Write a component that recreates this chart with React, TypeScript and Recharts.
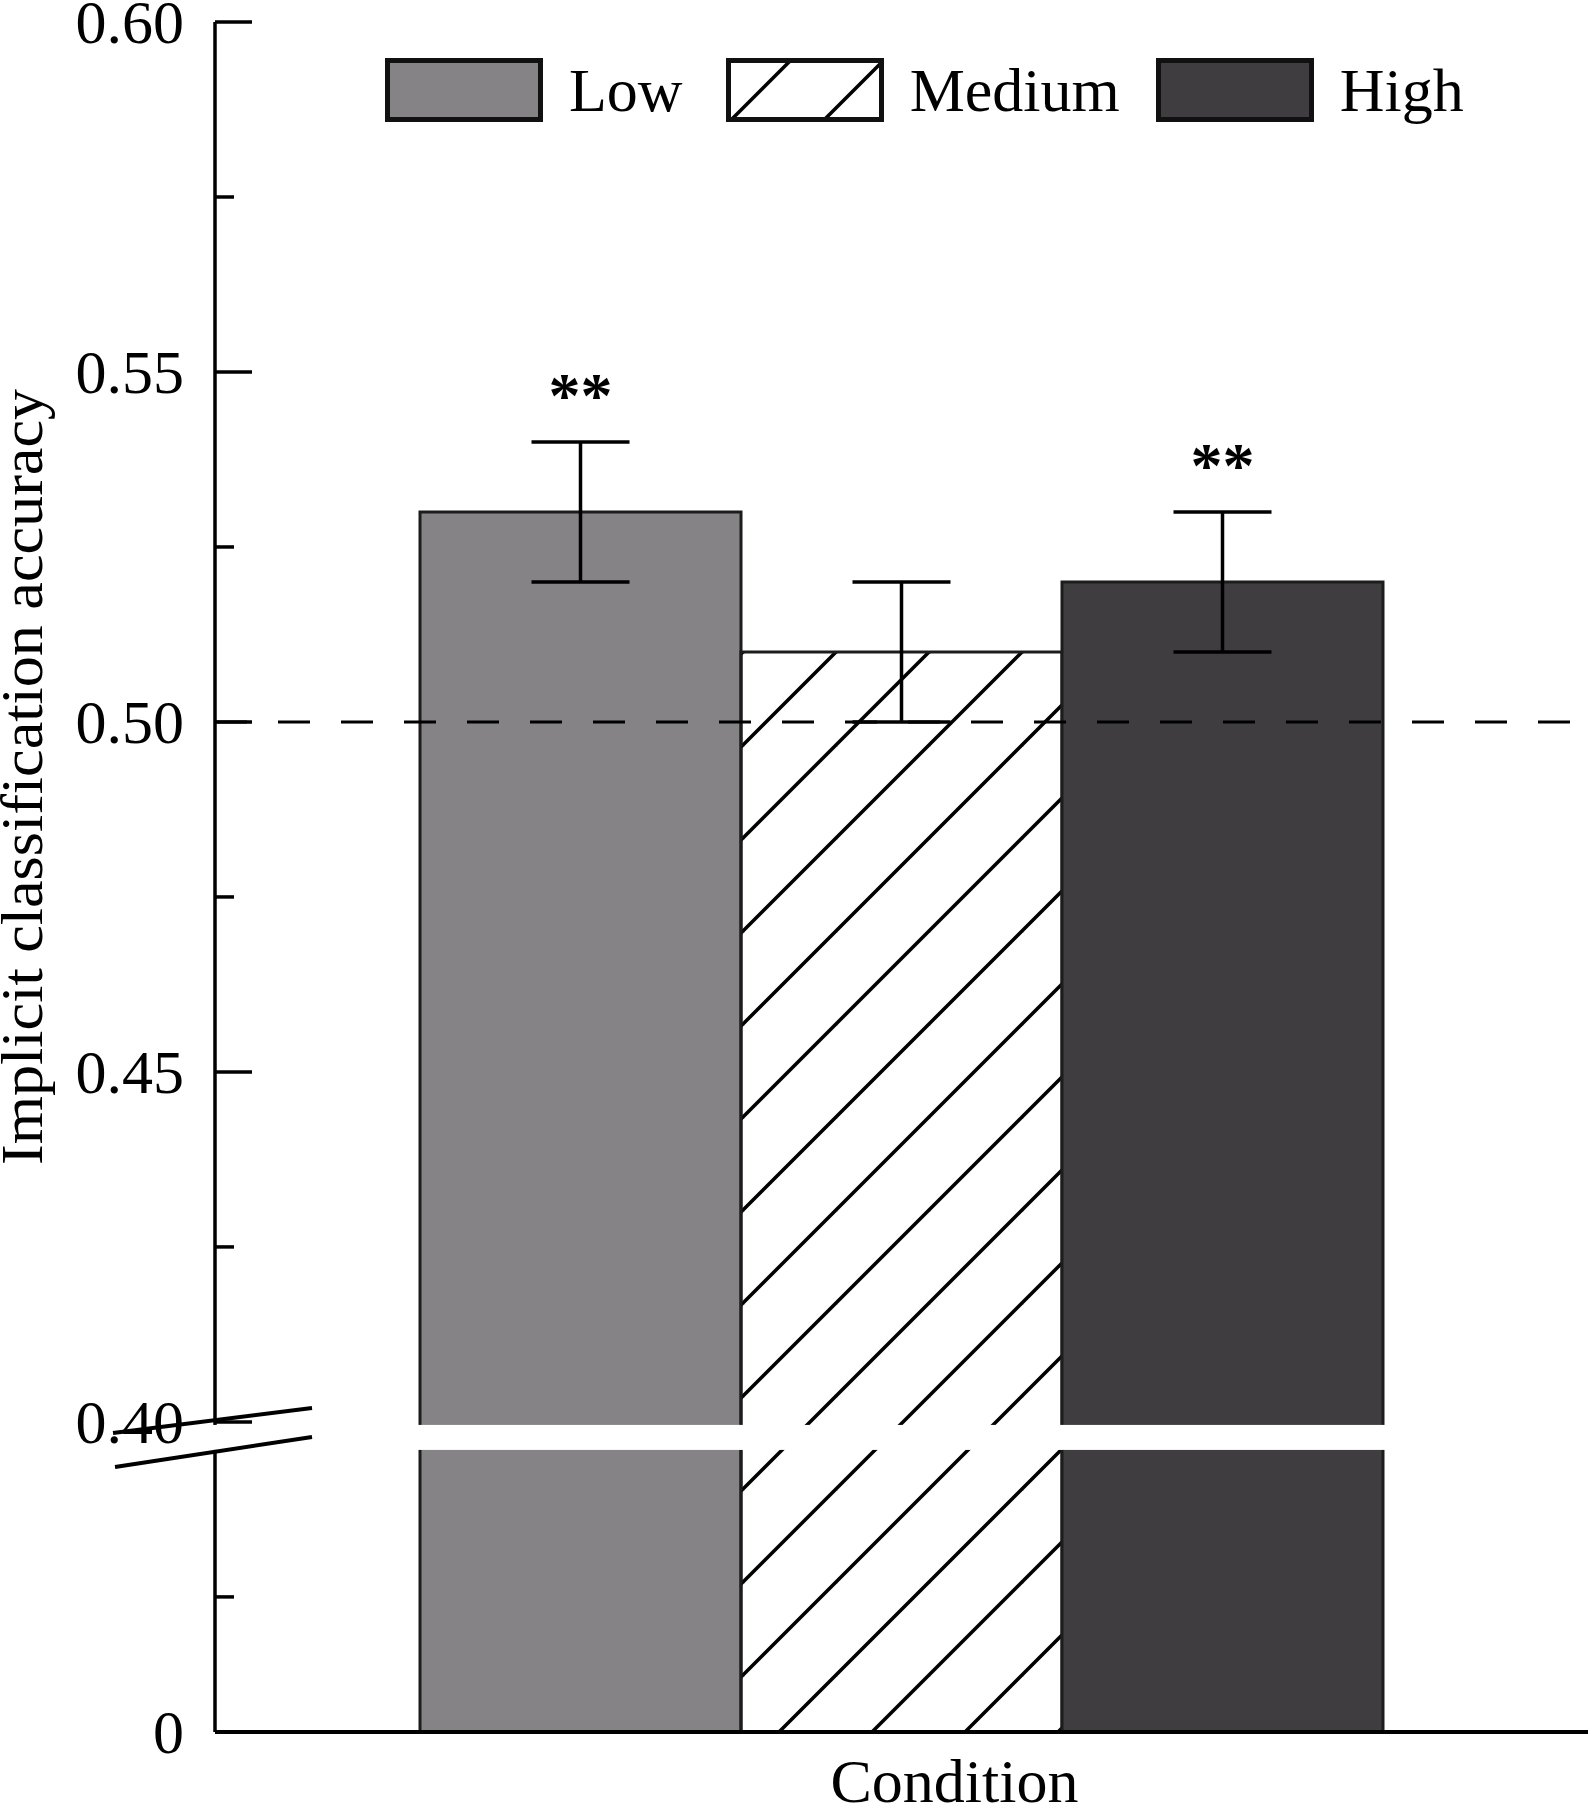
import React from "react";
import {
  Bar,
  BarChart,
  ErrorBar,
  LabelList,
  Legend,
  ReferenceLine,
  XAxis,
  YAxis,
} from "recharts";

// values
const CATEGORY = "Condition";
const SERIES = ["Low", "Medium", "High"];
const KEYS = ["low", "medium", "high"];
const MEANS = [0.53, 0.51, 0.52];
const ERRORS = [0.01, 0.01, 0.01];
const STARS = ["**", "", "**"];

// broken axis: everything below 0.40 is squeezed into a short stub labelled "0"
const Y_MIN = 0.3557;
const Y_MAX = 0.6;
const BREAK_AT = 0.4;
const CHANCE = 0.5;
const TICK_VALUES = [Y_MIN, 0.375, 0.4, 0.425, 0.45, 0.475, 0.5, 0.525, 0.55, 0.575, 0.6];
const TICK_LABELS = ["0", "", "0.40", "", "0.45", "", "0.50", "", "0.55", "", "0.60"];

const FONT = "'Liberation Serif', 'Times New Roman', serif";
const FILLS = ["#858386", "url(#hatch)", "#3f3d40"];
const EDGE = "#1c1c1c";

const data = [
  KEYS.reduce<Record<string, string | number>>(
    (row, k, i) => {
      row[k] = MEANS[i];
      row[`${k}Se`] = ERRORS[i];
      return row;
    },
    { condition: CATEGORY },
  ),
];

function makeBarShape(i: number) {
  return (props: any) => {
    const { x, y, width, height } = props;
    const ppu = height / (MEANS[i] - Y_MIN);
    const bottom = y + height;
    const breakY = bottom - (BREAK_AT - Y_MIN) * ppu;
    return (
      <g>
        <rect x={x} y={y} width={width} height={height} fill={FILLS[i]} />
        <path
          d={`M${x},${bottom} V${y} H${x + width} V${bottom}`}
          fill="none"
          stroke={EDGE}
          strokeWidth={3}
        />
        <rect x={x - 2} y={breakY + 3} width={width + 4} height={25} fill="#fff" />
      </g>
    );
  };
}

function makeStar(i: number) {
  return (props: any) => {
    const box = props.viewBox ?? props;
    const { x, y, width, height } = box;
    if (!STARS[i]) return null;
    const ppu = height / (MEANS[i] - Y_MIN);
    const centre = y - ERRORS[i] * ppu - 54;
    return (
      <text
        x={x + width / 2}
        y={centre + 29}
        textAnchor="middle"
        fontFamily={FONT}
        fontWeight="bold"
        fontSize={64}
        fill="#000"
      >
        {STARS[i]}
      </text>
    );
  };
}

function YTick(props: any) {
  const { x, y, payload } = props;
  const v = payload.value as number;
  const idx = TICK_VALUES.findIndex((t) => Math.abs(t - v) < 1e-6);
  const label = TICK_LABELS[idx] ?? "";
  const isZero = idx === 0;
  const len = label ? 37 : 19;
  return (
    <g>
      {!isZero && <line x1={x} x2={x + len} y1={y} y2={y} stroke="#000" strokeWidth={3.5} />}
      {label && (
        <text x={x - 31} y={y + 21} textAnchor="end" fontFamily={FONT} fontSize={62} fill="#000">
          {label}
        </text>
      )}
      {Math.abs(v - BREAK_AT) < 1e-6 && (
        <g>
          <rect x={x - 6} y={y + 3} width={12} height={25} fill="#fff" />
          <line x1={x - 102} y1={y + 11} x2={x + 97} y2={y - 14} stroke="#000" strokeWidth={4} />
          <line x1={x - 100} y1={y + 45} x2={x + 97} y2={y + 15} stroke="#000" strokeWidth={4} />
        </g>
      )}
    </g>
  );
}

function Swatch({ i }: { i: number }) {
  return (
    <svg width={158} height={64} style={{ display: "block" }}>
      <defs>
        <pattern id="hatchLegend" patternUnits="userSpaceOnUse" width={93} height={93} x={-26} y={0}>
          <line x1={0} y1={93} x2={93} y2={0} stroke="#000" strokeWidth={3.5} />
          <line x1={-10} y1={10} x2={10} y2={-10} stroke="#000" strokeWidth={3.5} />
          <line x1={83} y1={103} x2={103} y2={83} stroke="#000" strokeWidth={3.5} />
        </pattern>
      </defs>
      <rect
        x={2.5}
        y={2.5}
        width={153}
        height={59}
        fill={i === 1 ? "url(#hatchLegend)" : FILLS[i]}
        stroke="#111"
        strokeWidth={5}
      />
    </svg>
  );
}

function renderLegend() {
  return (
    <div style={{ display: "flex", alignItems: "center", fontFamily: FONT, fontSize: 62 }}>
      {SERIES.map((name, i) => (
        <div key={name} style={{ display: "flex", alignItems: "center", marginRight: i === 0 ? 43 : 36 }}>
          <Swatch i={i} />
          <span style={{ marginLeft: 26, lineHeight: "64px", color: "#000" }}>{name}</span>
        </div>
      ))}
    </div>
  );
}

export default function App() {
  return (
    <div style={{ position: "absolute", left: 0, top: 0, background: "#fff" }}>
      <BarChart
        width={1588}
        height={1804}
        data={data}
        margin={{ top: 22, right: 0, bottom: 0, left: 0 }}
        barGap={0}
        barSize={321}
      >
        <defs>
          <pattern id="hatch" patternUnits="userSpaceOnUse" width={93} height={93}>
            <line x1={0} y1={93} x2={93} y2={0} stroke="#000" strokeWidth={3.5} />
            <line x1={-10} y1={10} x2={10} y2={-10} stroke="#000" strokeWidth={3.5} />
            <line x1={83} y1={103} x2={103} y2={83} stroke="#000" strokeWidth={3.5} />
          </pattern>
        </defs>
        <XAxis
          dataKey="condition"
          height={72}
          tick={false}
          tickLine={false}
          axisLine={{ stroke: "#000", strokeWidth: 4 }}
          label={(p: any) => {
            const vb = p.viewBox;
            return (
              <text
                x={vb.x + vb.width / 2 + 53}
                y={vb.y + 70}
                textAnchor="middle"
                fontFamily={FONT}
                fontSize={62}
                fill="#000"
              >
                {CATEGORY}
              </text>
            );
          }}
        />
        <YAxis
          width={215}
          domain={[Y_MIN, Y_MAX]}
          allowDataOverflow
          ticks={TICK_VALUES}
          interval={0}
          tickSize={0}
          tickMargin={0}
          tickLine={false}
          tick={<YTick />}
          axisLine={{ stroke: "#000", strokeWidth: 3.5 }}
          label={(p: any) => {
            const vb = p.viewBox;
            const cx = 42;
            const cy = vb.y + vb.height / 2 - 100;
            return (
              <text
                x={cx}
                y={cy}
                transform={`rotate(-90 ${cx} ${cy})`}
                textAnchor="middle"
                fontFamily={FONT}
                fontSize={59}
                textLength={776}
                lengthAdjust="spacingAndGlyphs"
                fill="#000"
              >
                Implicit classification accuracy
              </text>
            );
          }}
        />
        <Legend
          layout="horizontal"
          verticalAlign="middle"
          align="center"
          content={renderLegend}
          wrapperStyle={{ top: 58, left: 385, width: "auto", height: "auto" }}
        />
        {KEYS.map((k, i) => (
          <Bar key={k} dataKey={k} name={SERIES[i]} fill={FILLS[i]} shape={makeBarShape(i)} isAnimationActive={false}>
            <ErrorBar dataKey={`${k}Se`} width={49} strokeWidth={3.5} stroke="#000" />
            <LabelList dataKey={k} content={makeStar(i)} />
          </Bar>
        ))}
        <ReferenceLine y={CHANCE} stroke="#000" strokeWidth={3} strokeDasharray="32 31" />
      </BarChart>
    </div>
  );
}
